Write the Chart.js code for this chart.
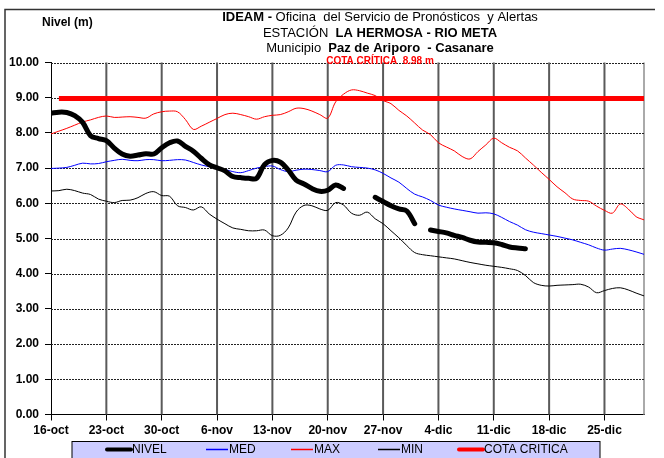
<!DOCTYPE html>
<html>
<head>
<meta charset="utf-8">
<script src="https://cdn.jsdelivr.net/npm/chart.js@4"></script>
<style>
  html, body { margin: 0; padding: 0; background: #fff; }
  #wrap { width: 664px; height: 458px; position: relative; }
</style>
</head>
<body>
<div id="wrap"><canvas id="chart"></canvas></div>
<script>
const FONT = 'Arial, "Liberation Sans", sans-serif';

// x axis runs by day index, 0 = 16-oct
const tickDays = [0, 7, 14, 21, 28, 35, 42, 49, 56, 63, 70];
const tickLabels = ['16-oct', '23-oct', '30-oct', '6-nov', '13-nov', '20-nov', '27-nov', '4-dic', '11-dic', '18-dic', '25-dic'];
const lastDay = 75;

// daily levels (m)
const nivelDiario = [
  8.56, 8.59, 8.58, 8.49, 8.30, 7.92, 7.84, 7.78, 7.57, 7.40,
  7.34, 7.37, 7.41, 7.40, 7.58, 7.72, 7.77, 7.62, 7.48, 7.28,
  7.10, 7.01, 6.92, 6.76, 6.73, 6.71, 6.71, 7.10, 7.22, 7.17,
  6.95, 6.66, 6.55, 6.42, 6.34, 6.37, 6.52, 6.42, null, null,
  null, 6.17, 6.05, 5.93, 5.84, 5.78, 5.42, null, 5.24, 5.20,
  5.16, 5.09, 5.03, 4.95, 4.90, 4.89, 4.88, 4.83, 4.76, 4.73,
  4.71, null, null, null, null, null, null, null, null, null,
  null, null, null, null, null, null
];
const nivelMedio = [
  6.99, 7.00, 7.02, 7.08, 7.14, 7.12, 7.13, 7.18, 7.22, 7.25,
  7.22, 7.21, 7.24, 7.24, 7.21, 7.22, 7.24, 7.23, 7.16, 7.09,
  7.04, 7.00, 6.96, 6.90, 6.87, 6.93, 7.00, 7.04, 7.06, 6.96,
  6.90, 6.94, 6.97, 6.96, 6.93, 6.90, 7.08, 7.09, 7.04, 7.02,
  7.00, 6.95, 6.85, 6.72, 6.60, 6.42, 6.26, 6.18, 6.08, 5.95,
  5.89, 5.84, 5.80, 5.76, 5.72, 5.73, 5.70, 5.60, 5.48, 5.38,
  5.25, 5.18, 5.14, 5.10, 5.06, 5.01, 4.96, 4.89, 4.82, 4.73,
  4.67, 4.70, 4.72, 4.68, 4.62, 4.55
];
const nivelMaximo = [
  7.97, 8.05, 8.13, 8.22, 8.31, 8.37, 8.44, 8.48, 8.44, 8.45,
  8.46, 8.44, 8.42, 8.54, 8.60, 8.62, 8.60, 8.38, 8.10, 8.19,
  8.30, 8.41, 8.52, 8.56, 8.52, 8.46, 8.39, 8.46, 8.50, 8.52,
  8.60, 8.70, 8.69, 8.62, 8.52, 8.42, 8.88, 9.10, 9.22, 9.20,
  9.13, 9.06, 8.92, 8.83, 8.64, 8.48, 8.28, 8.08, 7.95, 7.72,
  7.60, 7.49, 7.33, 7.26, 7.47, 7.66, 7.85, 7.72, 7.59, 7.49,
  7.29, 7.09, 6.88, 6.68, 6.47, 6.30, 6.12, 6.08, 6.06, 5.92,
  5.80, 5.72, 5.98, 5.84, 5.62, 5.53
];
const nivelMinimo = [
  6.35, 6.36, 6.40, 6.36, 6.29, 6.25, 6.12, 6.06, 6.02, 6.08,
  6.09, 6.16, 6.28, 6.33, 6.22, 6.20, 5.93, 5.88, 5.81, 5.90,
  5.70, 5.55, 5.42, 5.30, 5.26, 5.22, 5.22, 5.24, 5.08, 5.09,
  5.30, 5.75, 5.94, 5.93, 5.84, 5.80, 6.02, 5.95, 5.72, 5.66,
  5.75, 5.56, 5.42, 5.22, 5.02, 4.80, 4.60, 4.54, 4.51, 4.48,
  4.45, 4.42, 4.37, 4.32, 4.28, 4.24, 4.21, 4.18, 4.14, 4.09,
  3.95, 3.75, 3.67, 3.65, 3.67, 3.68, 3.69, 3.70, 3.62, 3.46,
  3.52, 3.58, 3.60, 3.54, 3.45, 3.37
];
const cotaCritica = 8.98;
const cotaDesde = 1;
const yTop = 10;

const toPoints = arr => arr.map((v, i) => ({ x: i, y: v }));

const series = [{
  label: 'NIVEL',
  data: toPoints(nivelDiario),
  borderColor: '#000000',
  borderWidth: 5,
  borderCapStyle: 'round',
  borderJoinStyle: 'round',
  spanGaps: false,
}, {
  label: 'MED',
  data: toPoints(nivelMedio),
  borderColor: '#0000ff',
  borderWidth: 1,
}, {
  label: 'MAX',
  data: toPoints(nivelMaximo),
  borderColor: '#ff0000',
  borderWidth: 1,
}, {
  label: 'MIN',
  data: toPoints(nivelMinimo),
  borderColor: '#000000',
  borderWidth: 1,
}, {
  label: 'COTA CRITICA',
  data: [{ x: cotaDesde, y: cotaCritica }, { x: lastDay, y: cotaCritica }],
  borderColor: '#ff0000',
  borderWidth: 5,
  tension: 0,
}];

// one vertical line per week, drawn under the series
const weekLines = tickDays.slice(1).map(d => ({
  label: '',
  data: [{ x: d, y: 0 }, { x: d, y: yTop }],
  borderColor: '#5a5a5a',
  borderWidth: 2,
  tension: 0,
  clip: false,
}));

// dotted level lines and plot right edge
const gridPlugin = {
  id: 'plotGrid',
  beforeDatasetsDraw(chart) {
    const ctx = chart.ctx;
    const area = chart.chartArea;
    const ys = chart.scales.y;
    ctx.save();
    ctx.strokeStyle = '#aaaaaa';
    ctx.lineWidth = 2;
    ctx.beginPath();
    ctx.moveTo(Math.round(area.right), area.top);
    ctx.lineTo(Math.round(area.right), area.bottom);
    ctx.stroke();

    ctx.strokeStyle = '#222';
    ctx.lineWidth = 1;
    ctx.setLineDash([2, 1]);
    ys.ticks.forEach(t => {
      if (t.value === 0) return;
      const y = Math.round(ys.getPixelForValue(t.value)) + 0.5;
      ctx.beginPath();
      ctx.moveTo(area.left, y);
      ctx.lineTo(area.right, y);
      ctx.stroke();
    });
    ctx.restore();
  }
};

// header text and outer frame
const decorPlugin = {
  id: 'decor',
  afterDraw(chart) {
    const ctx = chart.ctx;
    ctx.save();

    ctx.strokeStyle = '#333';
    ctx.lineWidth = 1.5;
    ctx.beginPath();
    ctx.moveTo(5, 458);
    ctx.lineTo(5, 9.5);
    ctx.lineTo(655, 9.5);
    ctx.stroke();

    const mixed = (parts, cx, y) => {
      let total = 0;
      parts.forEach(p => { ctx.font = p[1] + ' 13px ' + FONT; total += ctx.measureText(p[0]).width; });
      let x = cx - total / 2;
      parts.forEach(p => {
        ctx.font = p[1] + ' 13px ' + FONT;
        ctx.fillText(p[0], x, y);
        x += ctx.measureText(p[0]).width;
      });
    };
    ctx.fillStyle = '#000';
    ctx.textBaseline = 'middle';
    ctx.textAlign = 'left';
    mixed([['IDEAM - ', 'bold'], ['Oficina  del Servicio de Pronósticos  y Alertas', 'normal']], 380, 17.5);
    mixed([['ESTACIÓN  ', 'normal'], ['LA HERMOSA - RIO META', 'bold']], 380, 33);
    mixed([['Municipio  ', 'normal'], ['Paz de Ariporo  - Casanare', 'bold']], 380, 48.5);

    ctx.font = 'bold 12px ' + FONT;
    ctx.fillText('Nivel (m)', 42, 23);

    ctx.fillStyle = '#ff0000';
    ctx.font = 'bold 10px ' + FONT;
    ctx.textAlign = 'center';
    ctx.fillText('COTA CRÍTICA  8.98 m', 380, 61);
    ctx.restore();
  }
};

// legend box under the axis
const legendItems = [
  { x: 107, len: 24 },
  { x: 206, len: 22 },
  { x: 291, len: 22 },
  { x: 378, len: 22 },
  { x: 459, len: 24 }
];
const legendPlugin = {
  id: 'boxLegend',
  afterDraw(chart) {
    const ctx = chart.ctx;
    ctx.save();
    ctx.fillStyle = '#ccccff';
    ctx.fillRect(72, 441, 528, 20);
    ctx.strokeStyle = '#000';
    ctx.lineWidth = 1;
    ctx.strokeRect(72, 441.5, 528, 20);
    ctx.font = '12px ' + FONT;
    ctx.textBaseline = 'middle';
    ctx.textAlign = 'left';
    series.forEach((ds, i) => {
      const it = legendItems[i];
      const y = 449.5;
      ctx.strokeStyle = ds.borderColor;
      ctx.lineWidth = ds.borderWidth > 2 ? 4 : 1.5;
      ctx.lineCap = ds.borderWidth > 2 ? 'round' : 'butt';
      ctx.beginPath();
      ctx.moveTo(it.x, y);
      ctx.lineTo(it.x + it.len, y);
      ctx.stroke();
      ctx.fillStyle = '#000';
      ctx.fillText(ds.label, it.x + it.len + 1, y);
    });
    ctx.restore();
  }
};

new Chart(document.getElementById('chart'), {
  type: 'line',
  data: {
    datasets: series.concat(weekLines),
  },
  options: {
    responsive: true,
    maintainAspectRatio: false,
    animation: false,
    layout: {
      padding: { top: 62.5, left: 0, right: 20, bottom: 0 },
    },
    elements: {
      point: { radius: 0, hoverRadius: 0 },
      line: { tension: 0.35, fill: false },
    },
    plugins: {
      legend: { display: false },
      title: { display: false },
      tooltip: { enabled: false },
    },
    scales: {
      x: {
        type: 'linear',
        min: 0,
        max: lastDay,
        afterBuildTicks(scale) {
          scale.ticks = tickDays.map(v => ({ value: v }));
        },
        afterFit(scale) {
          scale.height = 43.5;
        },
        grid: {
          drawOnChartArea: false,
          tickLength: 6,
          tickColor: '#000',
          tickWidth: 1,
        },
        border: {
          color: '#000',
          width: 1,
        },
        ticks: {
          color: '#000',
          maxRotation: 0,
          autoSkip: false,
          padding: 3,
          font: { family: FONT, size: 12, weight: 'bold' },
          callback: (v) => tickLabels[tickDays.indexOf(v)],
        },
      },
      y: {
        min: 0,
        max: yTop,
        afterFit(scale) {
          scale.width = 51;
        },
        grid: {
          drawOnChartArea: false,
          tickLength: 6,
          tickColor: '#000',
          tickWidth: 1,
        },
        border: {
          color: '#000',
          width: 1,
        },
        ticks: {
          stepSize: 1,
          color: '#000',
          padding: 6,
          font: { family: FONT, size: 12, weight: 'bold' },
          callback: (v) => v.toFixed(2),
        },
      },
    },
  },
  plugins: [gridPlugin, decorPlugin, legendPlugin],
});
</script>
</body>
</html>
